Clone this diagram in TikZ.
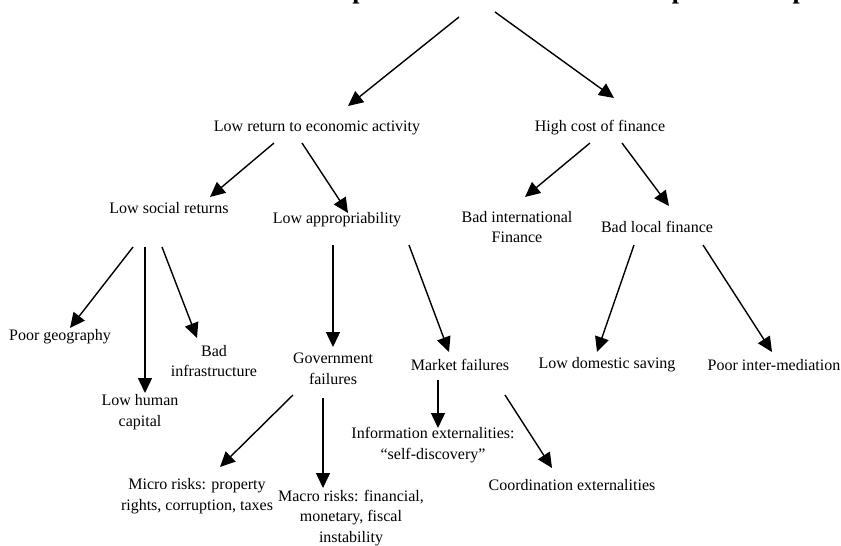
\documentclass[tikz,border=0pt]{standalone}
\usepackage{fontspec}
\setmainfont{Liberation Serif}
\usetikzlibrary{arrows.meta}
\begin{document}
\begin{tikzpicture}[x=1pt,y=-1pt,
  lbl/.style={font=\fontsize{16}{20.5}\selectfont, align=center, inner sep=0pt},
  ttl/.style={font=\fontsize{26}{30}\selectfont\bfseries, inner sep=0pt},
  arr/.style={-{Triangle[length=15pt,width=14pt]}, line width=1.4pt}]
\path[use as bounding box] (0,0) rectangle (841,546);
\clip (0,0) rectangle (841,546);
% title (clipped at top)
\node[ttl, anchor=base west] (title) at (89,-1.5) {Problem: Low levels of private investment and entrepreneurship};
\coordinate (ts1) at (459,17);
\coordinate (ts2) at (495,12);
% nodes
\node[lbl] (lr)  at (317,128) {Low return to economic activity};
\node[lbl] (hc)  at (600,128) {High cost of finance};
\node[lbl] (ls)  at (169,208) {Low social returns};
\node[lbl] (la)  at (337,220) {Low appropriability};
\node[lbl] (bi)  at (517,227) {Bad international\\Finance};
\node[lbl] (bl)  at (657,227) {Bad local finance};
\node[lbl] (pg)  at (60,337) {Poor geography};
\node[lbl] (lh)  at (140,412) {Low human\\capital};
\node[lbl] (bif) at (214,361) {Bad\\infrastructure};
\node[lbl] (gf)  at (333,369) {Government\\failures};
\node[lbl] (mf)  at (460,365) {Market failures};
\node[lbl] (lds) at (607,365) {Low domestic saving};
\node[lbl] (pim) at (774,365) {Poor inter-mediation};
\node[lbl] (mi)  at (197,496) {Micro risks: property\\rights, corruption, taxes};
\node[lbl] (ma)  at (351,518) {Macro risks: financial,\\monetary, fiscal\\instability};
\node[lbl] (ie)  at (433,445) {Information externalities:\\“self-discovery”};
\node[lbl] (ce)  at (572,485) {Coordination externalities};
% connectors
\draw[arr] (ts1) -- ([shift={(31,-22)}]lr.center);
\draw[arr] (ts2) -- ([shift={(14,-30)}]hc.center);
\draw[arr] ([shift={(-43,15)}]lr.center) -- ([shift={(41,-11)}]ls.center);
\draw[arr] ([shift={(-15,15)}]lr.center) -- ([shift={(11,-7)}]la.center);
\draw[arr] ([shift={(-10,15)}]hc.center) -- ([shift={(8,-30)}]bi.center);
\draw[arr] ([shift={(22,15)}]hc.center) -- ([shift={(12,-21)}]bl.center);
\draw[arr] ([shift={(-36,39)}]ls.center) -- ([shift={(10,-9)}]pg.center);
\draw[arr] ([shift={(-24,39)}]ls.center) -- ([shift={(5,-19)}]lh.center);
\draw[arr] ([shift={(-7,39)}]ls.center) -- ([shift={(-17,-23)}]bif.center);
\draw[arr] ([shift={(-4,25)}]la.center) -- ([shift={(0,-22)}]gf.center);
\draw[arr] ([shift={(72,25)}]la.center) -- ([shift={(-11,-13)}]mf.center);
\draw[arr] ([shift={(-23,18)}]bl.center) -- ([shift={(-10,-13)}]lds.center);
\draw[arr] ([shift={(46,18)}]bl.center) -- ([shift={(-2,-13)}]pim.center);
\draw[arr] ([shift={(-40,26)}]gf.center) -- ([shift={(23,-29)}]mi.center);
\draw[arr] ([shift={(-10,29)}]gf.center) -- ([shift={(-28,-30)}]ma.center);
\draw[arr] ([shift={(-22,15)}]mf.center) -- ([shift={(5,-17)}]ie.center);
\draw[arr] ([shift={(45,30)}]mf.center) -- ([shift={(-20,-17)}]ce.center);
\end{tikzpicture}
\end{document}
